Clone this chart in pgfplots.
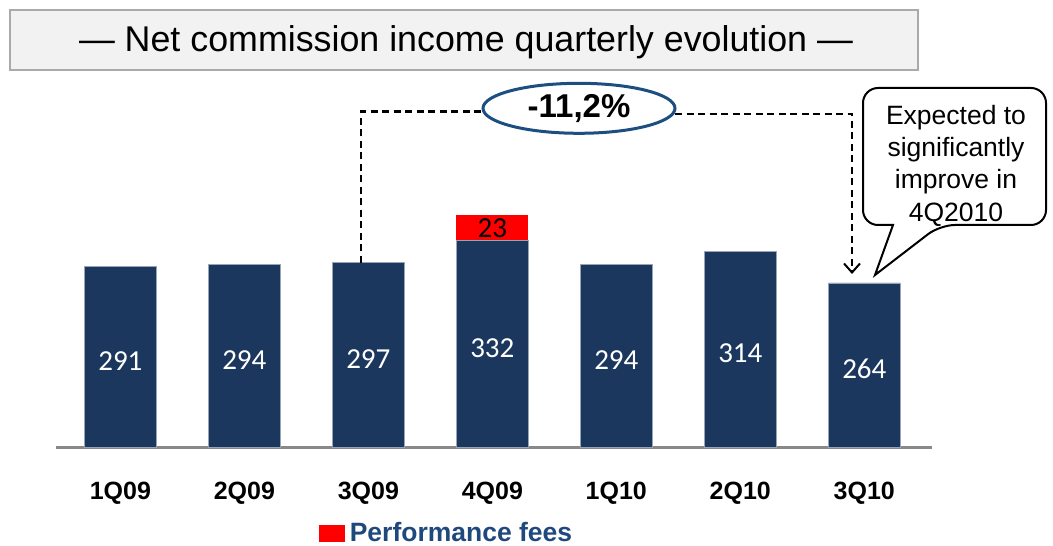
\documentclass[border=0pt]{standalone}
\usepackage{pgfplots}
\pgfplotsset{compat=1.18}
\usepackage{pgfplotstable}
\usetikzlibrary{arrows.meta}
\usepackage{fontspec}
\setmainfont{Liberation Sans}
\newfontfamily\calib{Carlito}
\definecolor{barblue}{RGB}{27,55,94}
\definecolor{ellblue}{RGB}{28,78,128}
\definecolor{legblue}{RGB}{31,73,125}
\definecolor{boxgray}{RGB}{242,242,242}
\definecolor{boxedge}{RGB}{170,170,170}
\definecolor{axgray}{RGB}{137,137,137}

\pgfplotstableread{
x v
0 291
1 294
2 297
3 332
4 294
5 314
6 264
}\nci

\begin{document}
\begin{tikzpicture}[x=1pt,y=1pt]
\path[use as bounding box] (0,0) rectangle (1053,546);

% title box
\draw[boxedge, line width=2pt, fill=boxgray] (10,476) rectangle (918,536);
\node[font=\fontsize{35.8}{40}\selectfont] at (466,503.5) {— Net commission income quarterly evolution —};

\begin{axis}[
  at={(56pt,98.7pt)}, anchor=south west,
  scale only axis, width=876pt, height=250pt,
  xmin=-0.519, xmax=6.546, ymin=0, ymax=401.3,
  axis x line=bottom, axis y line=none,
  axis line style={-, axgray, line width=3pt},
  xtick={0,1,2,3,4,5,6},
  xticklabels={1Q09,2Q09,3Q09,4Q09,1Q10,2Q10,3Q10},
  xtick style={draw=none},
  xticklabel style={font=\bfseries\fontsize{25}{30}\selectfont, anchor=center, yshift=-44pt},
  ytick=\empty,
  clip=false,
  legend style={draw=none, fill=none, at={(0.300,-0.343)}, anchor=west,
    font=\bfseries\fontsize{26.5}{30}\selectfont\color{legblue},
    inner sep=0pt, outer sep=0pt},
  legend image code/.code={\fill[red] (0pt,-8.5pt) rectangle (26pt,8.5pt);},
  legend cell align=left,
]
% performance fees segment (drawn from the top of the 4Q09 bar)
\addplot[ybar, bar width=72pt, fill=red, draw=none] coordinates {(3,372.6)};
\addlegendentry{\hspace{3pt}Performance fees}
% net commission income bars
\addplot[ybar, bar width=71.6pt, fill=barblue, draw=white!55!barblue, line width=0.6pt, forget plot]
  table[x=x, y=v] {\nci};
% value labels
\addplot[only marks, mark=none, forget plot,
  point meta=explicit symbolic,
  nodes near coords={\pgfplotspointmeta},
  nodes near coords align=center,
  every node near coord/.append style={font=\calib\fontsize{29}{34}\selectfont, text=white, yshift=-4pt}]
  table[x=x, y expr=\thisrow{v}/2, meta=v] {\nci};
\addplot[only marks, mark=none, forget plot,
  point meta=explicit symbolic,
  nodes near coords={\pgfplotspointmeta},
  nodes near coords align=center,
  every node near coord/.append style={font=\calib\fontsize{29}{34}\selectfont, text=black}]
  coordinates {(3,352.3)[23]};
\end{axis}

% dashed connector
\draw[line width=2.5pt, dash pattern=on 7pt off 4.5pt] (361,283) -- (361,434.3) -- (483,434.3);
\draw[line width=2.5pt, dash pattern=on 7pt off 4.5pt, -{Straight Barb[length=9pt,width=16pt,line width=2pt]}]
  (675,432) -- (852,432) -- (852,272);
% ellipse
\draw[ellblue, line width=3pt, fill=white] (579,437.7) ellipse [x radius=96, y radius=25];
\node[font=\bfseries\fontsize{33}{38}\selectfont] at (579,437.7) {-11,2\%};

% speech bubble
\draw[line width=2pt, fill=white, line join=miter]
  (893,321) [rounded corners=15pt] -- (863,321) -- (863,458) -- (1046,458) -- (1046,321) -- (940,321) [sharp corners] -- (875,271) -- cycle;
\node[align=center, font=\fontsize{26.5}{32.3}\selectfont] at (956,380.5)
  {Expected to\\significantly\\improve in\\4Q2010};
\end{tikzpicture}
\end{document}
